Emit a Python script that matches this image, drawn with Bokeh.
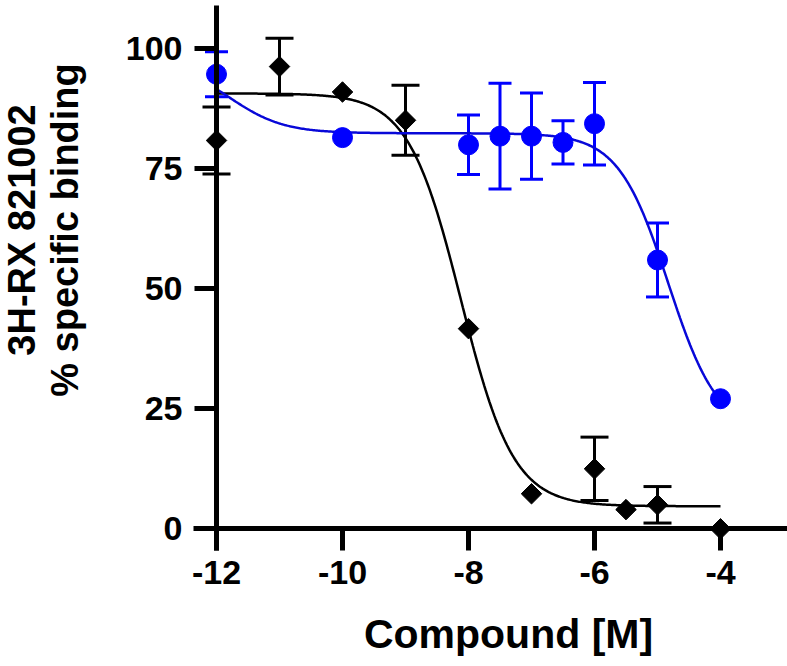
import numpy as np
from bokeh.plotting import figure
from bokeh.models import ColumnDataSource, Whisker, TeeHead, FixedTicker, Label, Range1d
from bokeh.embed import file_html
from bokeh.resources import INLINE

# ---- data ----
black_x = [-12, -11, -10, -9, -8, -7, -6, -5.5, -5, -4]
black_y = [80.9, 96.3, 91.0, 85.1, 41.7, 7.3, 12.5, 4.0, 5.0, 0.0]
black_err = [7.0, 5.9, 0, 7.3, 0, 0, 6.6, 0, 3.8, 0]

blue_x = [-12, -10, -8, -7.5, -7, -6.5, -6, -5, -4]
blue_y = [94.7, 81.5, 80.0, 81.8, 81.8, 80.5, 84.4, 56.0, 27.1]
blue_err = [4.7, 0, 6.2, 11.0, 9.0, 4.5, 8.6, 7.7, 0]

x_ticks = [-12, -10, -8, -6, -4]
x_tick_labels = ["-12", "-10", "-8", "-6", "-4"]
y_ticks = [0, 25, 50, 75, 100]
y_tick_labels = ["0", "25", "50", "75", "100"]

# fitted curve parameters (sigmoidal dose-response fits)
black_top, black_bottom, black_logic50, black_hill = 90.7, 4.7, -8.12, 1.04
blue_span1, blue_logic50_1 = 15.0, -11.8
blue_plateau, blue_bottom, blue_logic50_2, blue_hill2 = 82.4, 20.0, -4.83, 1.1

BLACK = "#000000"
BLUE = "#0000FF"
BLUE_LINE = "#0808D8"
FONT = "Liberation Sans"

xs = np.linspace(-12, -4, 400)
black_curve = black_bottom + (black_top - black_bottom) / (1 + 10 ** ((xs - black_logic50) * black_hill))
blue_curve = (blue_bottom
              + blue_span1 / (1 + 10 ** (xs - blue_logic50_1))
              + (blue_plateau - blue_bottom) / (1 + 10 ** ((xs - blue_logic50_2) * blue_hill2)))

X0, X1 = -15.4286, -2.9365
Y0, Y1 = -28.6875, 110.0625

p = figure(width=787, height=666, output_backend="svg", toolbar_location=None,
           x_range=Range1d(X0, X1), y_range=Range1d(Y0, Y1),
           min_border_left=0, min_border_right=0, min_border_top=0, min_border_bottom=0)
p.outline_line_color = None
p.grid.visible = False
p.background_fill_color = "white"

p.xaxis.fixed_location = 0
p.yaxis.fixed_location = -12
p.xaxis.bounds = (-12.365, X1)
p.yaxis.bounds = (-4.52, 109.0)
p.xaxis.ticker = FixedTicker(ticks=x_ticks)
p.yaxis.ticker = FixedTicker(ticks=y_ticks)
p.xaxis.major_label_overrides = dict(zip(x_ticks, x_tick_labels))
p.yaxis.major_label_overrides = dict(zip(y_ticks, y_tick_labels))
for ax in (p.xaxis, p.yaxis):
    ax.axis_line_width = 5
    ax.axis_line_color = BLACK
    ax.major_tick_line_width = 5
    ax.major_tick_line_color = BLACK
    ax.major_tick_out = 22
    ax.major_tick_in = 0
    ax.minor_tick_out = 0
    ax.minor_tick_in = 0
    ax.major_label_text_font = FONT
    ax.major_label_text_font_style = "bold"
    ax.major_label_text_font_size = "34px"
    ax.major_label_text_color = BLACK
p.xaxis.major_label_standoff = 10
p.yaxis.major_label_standoff = 12

# fitted curves
p.line(xs, black_curve, line_color=BLACK, line_width=2.5)
p.line(xs, blue_curve, line_color=BLUE_LINE, line_width=2.5)

# error bars
def whisker_source(x, y, e):
    xx = [a for a, c in zip(x, e) if c > 0]
    up = [b + c for b, c in zip(y, e) if c > 0]
    lo = [b - c for b, c in zip(y, e) if c > 0]
    return ColumnDataSource(dict(x=xx, upper=up, lower=lo))

for x, y, e, col, cap in ((black_x, black_y, black_err, BLACK, 28),
                          (blue_x, blue_y, blue_err, BLUE, 23)):
    w = Whisker(source=whisker_source(x, y, e), base="x", upper="upper", lower="lower",
                dimension="height", line_color=col, line_width=3,
                upper_head=TeeHead(size=cap, line_color=col, line_width=3),
                lower_head=TeeHead(size=cap, line_color=col, line_width=3))
    p.add_layout(w)

# points
p.scatter(black_x, black_y, marker="square", angle=np.pi / 4, size=14.5,
          fill_color=BLACK, line_color=BLACK)
p.scatter(blue_x, blue_y, marker="circle", size=20, fill_color=BLUE, line_color=BLUE)

# axis titles
p.add_layout(Label(x=-15.083, y=62.25, text="3H-RX 821002", angle=np.pi / 2,
                   text_font=FONT, text_font_style="bold", text_font_size="38px",
                   text_align="center", text_baseline="middle", text_color=BLACK))
p.add_layout(Label(x=-14.40, y=62.25, text="% specific binding", angle=np.pi / 2,
                   text_font=FONT, text_font_style="bold", text_font_size="38px",
                   text_align="center", text_baseline="middle", text_color=BLACK))
p.add_layout(Label(x=-7.365, y=-21.9, text="Compound [M]",
                   text_font=FONT, text_font_style="bold", text_font_size="41px",
                   text_align="center", text_baseline="middle", text_color=BLACK))

open("out.html", "w").write(file_html(p, INLINE))
